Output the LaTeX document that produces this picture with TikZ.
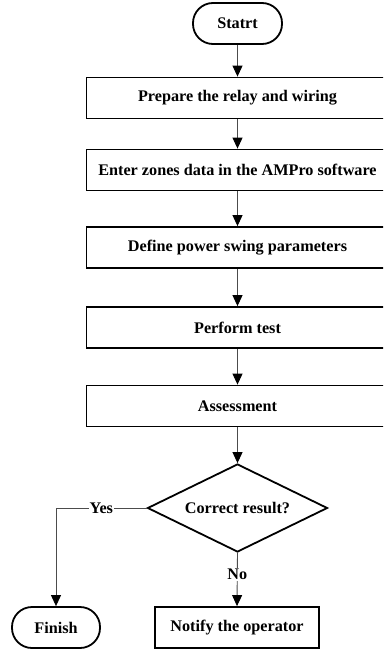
\documentclass[tikz,border=0pt]{standalone}
\usepackage{fontspec}
\setmainfont{Liberation Serif}
\usetikzlibrary{arrows.meta,shapes.geometric,positioning}
\begin{document}
\begin{tikzpicture}[x=1pt,y=-1pt,
  every node/.style={font=\fontsize{16.2}{19}\selectfont\bfseries},
  procbox/.style={draw=black,line width=1.8pt,rectangle,minimum width=302pt,minimum height=41pt,inner sep=2pt},
  termbox/.style={draw=black,line width=1.8pt,rectangle,rounded corners=20pt,minimum height=41pt,inner sep=2pt},
  smallbox/.style={draw=black,line width=1.8pt,rectangle,minimum width=164pt,minimum height=41pt,inner sep=2pt},
  decbox/.style={draw=black,line width=1.8pt,diamond,aspect=2.05,minimum width=180pt,minimum height=88pt,inner sep=0pt},
  conn/.style={draw=black!70,line width=0.9pt},
  arr/.style={conn,-{Triangle[length=11pt,width=10pt,fill=black,color=black]}},
  lbl/.style={fill=white,inner sep=1pt}]
\useasboundingbox (0,0) rectangle (383,650);
\clip (0,0) rectangle (383,650);
\fill[white] (0,0) rectangle (383,650);
\node[termbox,minimum width=89pt] (start) at (237.5,23.5) {Statrt};
\node[procbox] (b1) at (237.5,98) {Prepare the relay and wiring};
\node[procbox] (b2) at (237.5,170) {Enter zones data in the AMPro software};
\node[procbox] (b3) at (237.5,247.5) {Define power swing parameters};
\node[procbox] (b4) at (237.5,327.5) {Perform test};
\node[procbox] (b5) at (237.5,406) {Assessment};
\node[decbox] (dec) at (237.5,508) {Correct result?};
\node[smallbox] (notify) at (237,627.5) {Notify the operator};
\node[termbox,minimum width=88pt] (finish) at (56,627.5) {Finish};
\draw[arr] (start) -- (b1);
\draw[arr] (b1) -- (b2);
\draw[arr] (b2) -- (b3);
\draw[arr] (b3) -- (b4);
\draw[arr] (b4) -- (b5);
\draw[arr] (b5) -- (dec);
\draw[arr] (dec.west) -| node[lbl,pos=0.25] {Yes} (finish.north);
\draw[arr] (dec.south) -- node[lbl,pos=0.4] {No} (notify.north);
\end{tikzpicture}
\end{document}
